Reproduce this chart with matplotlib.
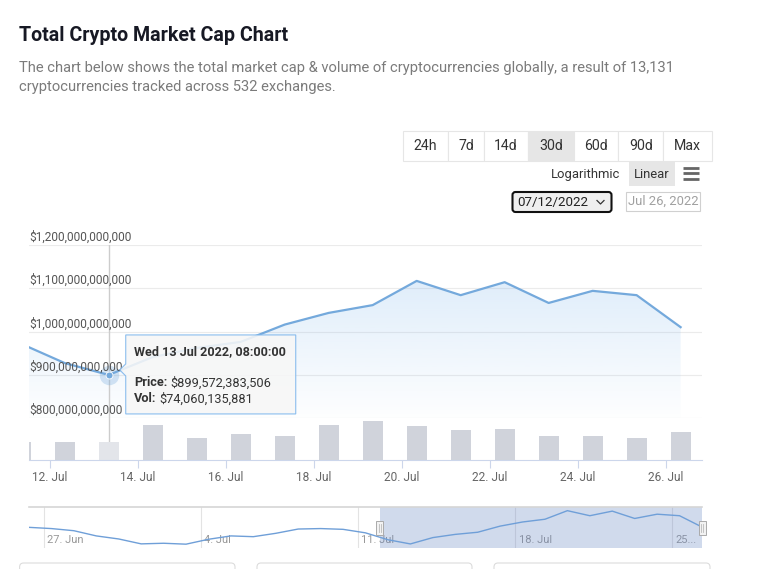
import numpy as np
import pandas as pd
import matplotlib
matplotlib.use("Agg")
import matplotlib.pyplot as plt
import matplotlib.dates as mdates
from matplotlib.colors import to_rgb
from matplotlib.patches import Polygon, Rectangle, FancyBboxPatch

plt.rcParams["font.family"] = ["Roboto", "DejaVu Sans"]

W, H = 770, 569

# daily market cap at 08:00, billions USD
dates = pd.date_range("2022-06-26 08:00", "2022-07-26 08:00", freq="D")
price = [1008, 1000, 986, 952, 932, 900, 904, 898, 930, 952, 947, 969, 997,
         1000, 995, 972, 927, 899.572383506, 941, 962, 976, 1016, 1043, 1061,
         1117, 1084, 1114, 1066, 1094, 1084, 1010]
# daily volume, billions USD (11 Jul .. 26 Jul)
volume = [74, 74, 74.060135881, 143, 89, 106, 97, 143, 157, 139, 121, 127,
          97, 97, 89, 115]
vol_dates = dates[-len(volume):]

y_ticks = [800, 900, 1000, 1100, 1200]
x_ticks = pd.date_range("2022-07-12", "2022-07-26", freq="2D")
nav_ticks = pd.date_range("2022-06-27", "2022-07-25", freq="7D")
nav_labels = ["27. Jun", "4. Jul", "11. Jul", "18. Jul", "25..."]
view = (pd.Timestamp("2022-07-11 12:30"), pd.Timestamp("2022-07-26 19:40"))
nav_sel = (pd.Timestamp("2022-07-11 23:30"), dates[-1])
hover = 17  # 13 Jul
hover_label = "Wed 13 Jul 2022, 08:00:00"
buttons = ["24h", "7d", "14d", "30d", "60d", "90d", "Max"]
active_btn = "30d"

LINE = "#74a9dc"
GRID = "#ebebeb"
AXIS = "#ccd6eb"


def num(d):
    return mdates.date2num(pd.DatetimeIndex(d).to_pydatetime())


dn = num(dates)
vn = num(vol_dates)
xv = num(view)
xs = num(nav_sel)


def box(l, t, r, b):
    return [l / W, 1 - b / H, (r - l) / W, (b - t) / H]


fig = plt.figure(figsize=(W / 100, H / 100), dpi=100)
ax = fig.add_axes(box(29, 245, 702, 418))
axv = fig.add_axes(box(29, 418, 702, 460))
nav = fig.add_axes(box(29, 507, 702, 548))
ui = fig.add_axes([0, 0, 1, 1])
ui.set_xlim(0, W)
ui.set_ylim(H, 0)
ui.axis("off")
ui.set_zorder(10)

# ---- price pane
for v in y_ticks:
    ax.axhline(v, color=GRID, lw=0.8, zorder=0)
    ax.annotate(f"${v * 1e9:,.0f}", xy=(0, v), xycoords=("axes fraction", "data"),
                xytext=(0, 3), textcoords="offset points", ha="left", va="baseline",
                fontsize=8.6, color="#555555", annotation_clip=False, zorder=5)

verts = list(zip(dn, price)) + [(dn[-1], 800), (dn[0], 800)]
poly = Polygon(verts, closed=True, fc="none", ec="none")
ax.add_patch(poly)
grad = np.zeros((200, 1, 4))
grad[..., :3] = to_rgb("#7cb5ec")
grad[:, 0, 3] = np.linspace(0.24, 0.01, 200)
im = ax.imshow(grad, extent=[dn[0], dn[-1], 800, max(price)], aspect="auto",
               origin="upper", zorder=1)
im.set_clip_path(poly)

ax.plot(dn, price, color=LINE, lw=1.6, solid_joinstyle="round", zorder=3)
ax.axvline(dn[hover], color="#cccccc", lw=1, zorder=2)
ax.plot(dn[hover], price[hover], "o", ms=14, color=LINE, alpha=0.3, mec="none", zorder=4)
ax.plot(dn[hover], price[hover], "o", ms=5, color=LINE, mec="white", mew=0.6, zorder=4)

ax.set_xlim(*xv)
ax.set_ylim(800, 1200)
ax.set_xticks([])
ax.set_yticks([])
for s in ax.spines.values():
    s.set_visible(False)

# ---- volume pane
bar_cols = ["#e3e5ea" if d == dates[hover] else "#d0d3db" for d in vol_dates]
axv.bar(vn, volume, width=0.45, color=bar_cols, zorder=2)
axv.axvline(dn[hover], color="#cccccc", lw=1, zorder=1)
axv.set_xlim(*xv)
axv.set_ylim(0, 170)
axv.set_yticks([])
axv.set_xticks(num(x_ticks))
axv.xaxis.set_major_formatter(mdates.DateFormatter("%d. %b"))
axv.tick_params(axis="x", direction="out", length=5.8, width=0.8, color=AXIS,
                labelcolor="#666666", labelsize=8.6, pad=2)
for k, s in axv.spines.items():
    s.set_visible(k == "bottom")
axv.spines["bottom"].set_color(AXIS)
axv.spines["bottom"].set_linewidth(0.8)

# ---- navigator
for t, lab in zip(num(nav_ticks), nav_labels):
    nav.axvline(t, color="#e3e3e3", lw=0.8, zorder=0)
    nav.annotate(lab, xy=(t, 0.2), xycoords=("data", "axes fraction"),
                 xytext=(2.5, 0), textcoords="offset points", ha="left", va="center",
                 fontsize=8, color="#999999", zorder=1)
nav.axvspan(xs[0], xs[1], color=(102 / 255, 133 / 255, 194 / 255), alpha=0.3, lw=0, zorder=2)
nav.plot(dn, price, color="#6f9fd8", lw=1, zorder=3)
nav.set_xlim(dn[0], dn[-1])
nav.set_ylim(873, 1141)
nav.set_xticks([])
nav.set_yticks([])
for k, s in nav.spines.items():
    s.set_visible(k == "top")
nav.spines["top"].set_color("#d6d6d6")
nav.spines["top"].set_linewidth(1.2)


def to_px(a, x, y, trans=None):
    tr = trans if trans is not None else a.transData
    dx, dy = tr.transform((x, y))
    return dx, H - dy


for xsel in xs:
    hx, _ = to_px(nav, xsel, 0, nav.get_xaxis_transform())
    _, hy = to_px(nav, 0, 0.5, nav.transAxes)
    ui.add_patch(Rectangle((hx - 3.5, hy - 7), 7, 14, fc="#f2f2f2", ec="#aaaaaa", lw=0.7))
    for off in (-1, 1):
        ui.plot([hx + off, hx + off], [hy - 4, hy + 4], color="#bbbbbb", lw=0.6)

# ---- tooltip
px, py = to_px(ax, dn[hover], price[hover])
L, T, R, B = px + 17, py - 40, px + 187, py + 39
tip = Polygon([(L, T), (R, T), (R, B), (L, B), (L, py + 1), (px + 11, py - 5), (L, py - 11)],
              closed=True, fc="#f7f7f7", ec="#7cb5ec", lw=0.8, alpha=0.88)
ui.add_patch(tip)
ui.text(L + 8.5, T + 16.5, hover_label, fontsize=9.1, weight="bold", color="#333333", va="center")
rend = fig.canvas.get_renderer()
rows = [("Price:", f"${price[hover] * 1e9:,.0f}", T + 48), ("Vol:", f"${volume[2] * 1e9:,.0f}", T + 64)]
for lab, val, yy in rows:
    t = ui.text(L + 8.5, yy, lab, fontsize=9.2, weight="bold", color="#333333", va="center")
    w = t.get_window_extent(rend).width
    ui.text(L + 8.5 + w + 3, yy, val, fontsize=9.2, color="#333333", va="center")

# ---- header
ui.text(19, 35, "Total Crypto Market Cap Chart", fontsize=14.1, weight="bold",
        color="#171924", va="center")
ui.text(19, 68, "The chart below shows the total market cap & volume of cryptocurrencies "
        "globally, a result of 13,131", fontsize=10.6, color="#7b7b7b", va="center")
ui.text(19, 87, "cryptocurrencies tracked across 532 exchanges.", fontsize=10.6,
        color="#7b7b7b", va="center")

edges = [402.7, 447.7, 484.3, 527.7, 574.3, 618.3, 663.3, 711.7]
for i, b in enumerate(buttons):
    fc = "#e6e6e6" if b == active_btn else "white"
    ui.add_patch(Rectangle((edges[i], 130.5), edges[i + 1] - edges[i], 30,
                           fc=fc, ec="#e6e6e6", lw=0.8))
    ui.text((edges[i] + edges[i + 1]) / 2, 146, b, fontsize=10.2, color="#333333",
            ha="center", va="center")

ui.text(620, 174, "Logarithmic", fontsize=9.4, color="#333333", ha="right", va="center")
ui.add_patch(Rectangle((629.3, 162.3), 45.7, 23.4, fc="#e6e6e6", ec="none"))
ui.text(652, 174, "Linear", fontsize=9.4, color="#333333", ha="center", va="center")
for yy in (167.5, 173.3, 179):
    ui.plot([683, 699], [yy, yy], color="#666666", lw=2, solid_capstyle="butt")

ui.add_patch(FancyBboxPatch((512.5, 192), 99, 20, boxstyle="round,pad=0,rounding_size=3",
                            fc="#efefef", ec="#111111", lw=1.5))
ui.text(517, 202.5, "07/12/2022", fontsize=9.6, color="#222222", va="center")
ui.plot([597, 600.5, 604], [200.5, 204, 200.5], color="#333333", lw=0.9)
ui.add_patch(Rectangle((625.7, 191.7), 74.3, 19, fc="white", ec="#d0d0d0", lw=0.8))
ui.text(663, 201.5, "Jul 26, 2022", fontsize=9.4, color="#a0a0a0", ha="center", va="center")

for l, r in [(19.6, 235), (257, 472), (494, 710)]:
    ui.add_patch(FancyBboxPatch((l, 563), r - l, 20, boxstyle="round,pad=0,rounding_size=4",
                                fc="none", ec="#dcdcdc", lw=0.8, clip_on=False))

fig.savefig("out.png", dpi=100, facecolor="white")
